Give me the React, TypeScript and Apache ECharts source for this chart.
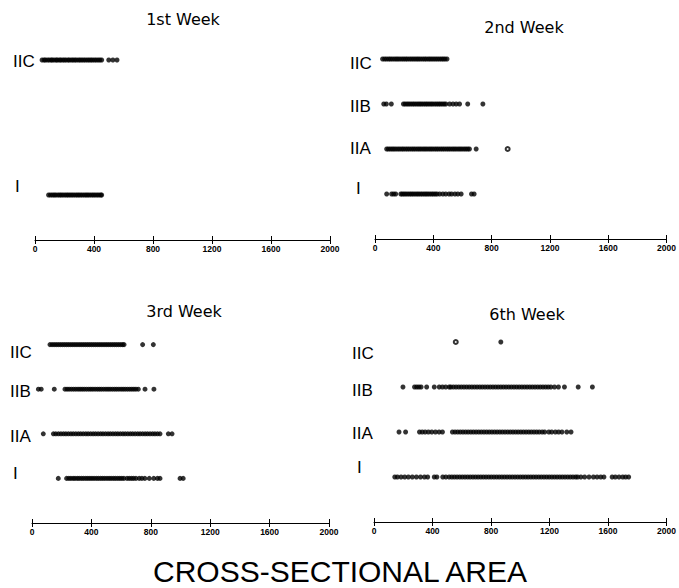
import React, { useEffect, useRef } from "react";
import * as echarts from "echarts";

// ---------- data (cross-sectional area values) ----------
const rowNames = ["I", "IIA", "IIB", "IIC"];
const panelTitles = ["1st Week", "2nd Week", "3rd Week", "6th Week"];
const xMin = 0;
const xMax = 2000;
const xInterval = 400;

// 1st week
const w1_I = [92, 105, 118, 130, 141, 155, 167, 178, 190, 203, 215, 226, 238, 250, 262, 275, 287, 298, 310, 322, 335, 347, 358, 370, 383, 395, 407, 420, 432, 445, 452];
const w1_IIA: number[] = [];
const w1_IIB: number[] = [];
const w1_IIC = [48, 62, 71, 85, 97, 110, 118, 131, 144, 152, 166, 175, 188, 199, 210, 224, 233, 247, 258, 270, 281, 295, 306, 318, 330, 342, 355, 367, 379, 390, 403, 415, 428, 440, 452, 500, 528, 556];

// 2nd week
const w2_I = [80, 114, 128, 142, 177, 188, 200, 212, 225, 238, 250, 262, 275, 288, 300, 313, 325, 338, 350, 362, 375, 388, 400, 413, 425, 443, 465, 485, 508, 525, 548, 568, 591, 662, 680];
const w2_IIA = [80, 92, 105, 118, 130, 143, 157, 170, 184, 196, 210, 223, 236, 250, 263, 276, 290, 303, 316, 330, 343, 356, 370, 383, 396, 410, 423, 436, 450, 463, 476, 490, 503, 516, 530, 543, 556, 570, 583, 596, 610, 623, 636, 648, 694];
const w2_IIA_open = [910];
const w2_IIB = [60, 78, 112, 195, 207, 220, 232, 245, 258, 270, 283, 296, 308, 320, 333, 346, 358, 371, 384, 396, 410, 423, 436, 448, 461, 474, 486, 512, 535, 557, 580, 636, 740];
const w2_IIC = [52, 66, 79, 93, 105, 118, 132, 145, 157, 170, 184, 197, 210, 222, 236, 249, 262, 275, 288, 300, 313, 327, 340, 352, 366, 378, 391, 404, 417, 430, 443, 456, 468, 480, 494];

// 3rd week
const w3_I = [177, 233, 248, 262, 277, 290, 305, 318, 333, 347, 362, 376, 390, 404, 418, 433, 447, 462, 476, 490, 505, 519, 533, 548, 562, 577, 591, 605, 619, 640, 655, 670, 684, 700, 722, 740, 760, 790, 820, 845, 862, 997, 1018];
const w3_IIA = [76, 144, 160, 178, 195, 212, 228, 245, 262, 278, 295, 312, 328, 345, 362, 378, 395, 412, 428, 445, 462, 478, 495, 512, 528, 545, 562, 578, 595, 612, 628, 645, 662, 678, 695, 712, 728, 745, 762, 778, 795, 812, 828, 845, 862, 918, 943];
const w3_IIB = [43, 62, 150, 222, 236, 250, 265, 280, 295, 310, 324, 338, 352, 367, 382, 396, 410, 425, 440, 454, 468, 483, 498, 512, 526, 541, 556, 570, 585, 600, 614, 628, 643, 658, 672, 686, 700, 716, 761, 821];
const w3_IIC = [121, 135, 149, 163, 177, 191, 205, 219, 233, 247, 261, 275, 289, 303, 317, 331, 345, 359, 373, 387, 401, 415, 429, 443, 457, 471, 485, 499, 513, 527, 541, 555, 569, 583, 597, 610, 620, 745, 817];

// 6th week
const w6_I = [142, 160, 185, 210, 235, 262, 290, 318, 345, 367, 412, 430, 470, 491, 514, 532, 550, 568, 586, 604, 622, 640, 658, 676, 694, 712, 730, 748, 766, 784, 802, 820, 838, 856, 874, 892, 910, 928, 946, 964, 982, 1000, 1018, 1036, 1054, 1072, 1090, 1108, 1126, 1144, 1162, 1180, 1198, 1216, 1234, 1252, 1270, 1288, 1306, 1324, 1342, 1360, 1378, 1392, 1414, 1440, 1470, 1500, 1525, 1550, 1572, 1628, 1650, 1675, 1700, 1720, 1741];
const w6_IIA = [171, 216, 311, 330, 350, 372, 395, 420, 445, 468, 536, 554, 572, 590, 608, 626, 644, 662, 680, 698, 716, 734, 752, 770, 788, 806, 824, 842, 860, 878, 896, 914, 932, 950, 968, 986, 1004, 1022, 1040, 1058, 1076, 1094, 1112, 1130, 1150, 1167, 1195, 1215, 1240, 1262, 1285, 1318, 1347];
const w6_IIB = [198, 277, 292, 307, 322, 360, 412, 446, 468, 490, 514, 525, 543, 561, 579, 597, 615, 633, 651, 669, 687, 705, 723, 741, 759, 777, 795, 813, 831, 849, 867, 885, 903, 921, 939, 957, 975, 993, 1011, 1029, 1047, 1065, 1083, 1101, 1119, 1137, 1155, 1173, 1191, 1209, 1234, 1261, 1302, 1396, 1493];
const w6_IIC = [867];
const w6_IIC_open = [559];

const panelRows: number[][][] = [
  [w1_I, w1_IIA, w1_IIB, w1_IIC],
  [w2_I, w2_IIA, w2_IIB, w2_IIC],
  [w3_I, w3_IIA, w3_IIB, w3_IIC],
  [w6_I, w6_IIA, w6_IIB, w6_IIC],
];
// open-circle marks: [panel, rowIndex, values]
const openMarks: [number, number, number[]][] = [
  [1, 1, w2_IIA_open],
  [3, 3, w6_IIC_open],
];

// ---------- layout ----------
const grids = [
  { left: 35, top: 15, width: 295, height: 225 },
  { left: 375, top: 14, width: 293, height: 225 },
  { left: 32, top: 300, width: 297, height: 223 },
  { left: 374, top: 297, width: 296, height: 225 },
];
const titlePos = [
  [183, 19],
  [524, 27],
  [184, 311],
  [527, 314],
];
// row label positions [x, y] per panel, per row (I, IIA, IIB, IIC)
const labelPos: number[][][] = [
  [[15, 186], null as any, null as any, [13, 61]],
  [[356, 188], [350, 148], [350, 106], [350, 63]],
  [[13, 473], [10, 436], [10, 391], [10, 352]],
  [[357, 467], [352, 433], [352, 390], [352, 353]],
];

export default function App() {
  const ref = useRef<HTMLDivElement>(null);
  useEffect(() => {
    document.body.style.margin = "0";
    const chart = echarts.init(ref.current!, undefined, { renderer: "svg" });
    const xAxes: any[] = [];
    const yAxes: any[] = [];
    grids.forEach((g, gi) => {
      xAxes.push({
        gridIndex: gi,
        type: "value",
        min: xMin,
        max: xMax,
        interval: xInterval,
        axisLine: { show: true, onZero: false, lineStyle: { color: "#000", width: 1 } },
        axisTick: { show: true, length: 4, lineStyle: { color: "#000", width: 1 } },
        axisLabel: {
          color: "#000",
          fontSize: 8.5,
          fontWeight: "bold",
          fontFamily: "Liberation Sans",
          margin: 4,
          formatter: (v: number) => String(v),
        },
        splitLine: { show: false },
      });
      xAxes.push({
        gridIndex: gi,
        type: "value",
        position: "bottom",
        min: xMin,
        max: xMax,
        interval: xInterval,
        axisLine: { show: false, onZero: false },
        axisTick: { show: true, inside: true, length: 4, lineStyle: { color: "#000", width: 1 } },
        axisLabel: { show: false },
        splitLine: { show: false },
      });
      yAxes.push({ gridIndex: gi, type: "value", min: 0, max: 5, show: false, splitLine: { show: false } });
    });

    const series: any[] = [];
    panelRows.forEach((rows, pi) => {
      rows.forEach((vals, ri) => {
        if (!vals.length) return;
        series.push({
          type: "scatter",
          xAxisIndex: pi * 2,
          yAxisIndex: pi,
          data: vals.map((v) => [v, ri + 1]),
          symbol: "circle",
          symbolSize: 5,
          itemStyle: { color: "#000" },
          silent: true,
        });
      });
    });
    openMarks.forEach(([pi, ri, vals]) => {
      series.push({
        type: "scatter",
        xAxisIndex: pi * 2,
        yAxisIndex: pi,
        data: vals.map((v) => [v, ri + 1]),
        symbol: "emptyCircle",
        symbolSize: 4,
        itemStyle: { color: "#000", borderColor: "#000", borderWidth: 1.3 },
        silent: true,
      });
    });

    const graphic: any[] = [];
    panelTitles.forEach((t, pi) => {
      graphic.push({
        type: "text",
        x: titlePos[pi][0],
        y: titlePos[pi][1],
        style: {
          text: t,
          fill: "#000",
          font: "16px 'DejaVu Sans'",
          textAlign: "center",
          textVerticalAlign: "middle",
        },
      });
    });
    labelPos.forEach((rows, pi) => {
      rows.forEach((pos, ri) => {
        if (!pos) return;
        graphic.push({
          type: "text",
          x: pos[0],
          y: pos[1],
          style: {
            text: rowNames[ri],
            fill: "#000",
            font: "17px 'Liberation Sans'",
            textAlign: "left",
            textVerticalAlign: "middle",
          },
        });
      });
    });
    graphic.push({
      type: "text",
      x: 340,
      y: 571,
      style: {
        text: "CROSS-SECTIONAL AREA",
        fill: "#000",
        font: "30px 'Liberation Sans'",
        textAlign: "center",
        textVerticalAlign: "middle",
      },
    });

    chart.setOption({
      animation: false,
      backgroundColor: "#fff",
      grid: grids.map((g) => ({ ...g, containLabel: false })),
      xAxis: xAxes,
      yAxis: yAxes,
      series,
      graphic,
    });
    return () => chart.dispose();
  }, []);
  return <div ref={ref} style={{ position: "fixed", left: 0, top: 0, width: 679, height: 588 }} />;
}
